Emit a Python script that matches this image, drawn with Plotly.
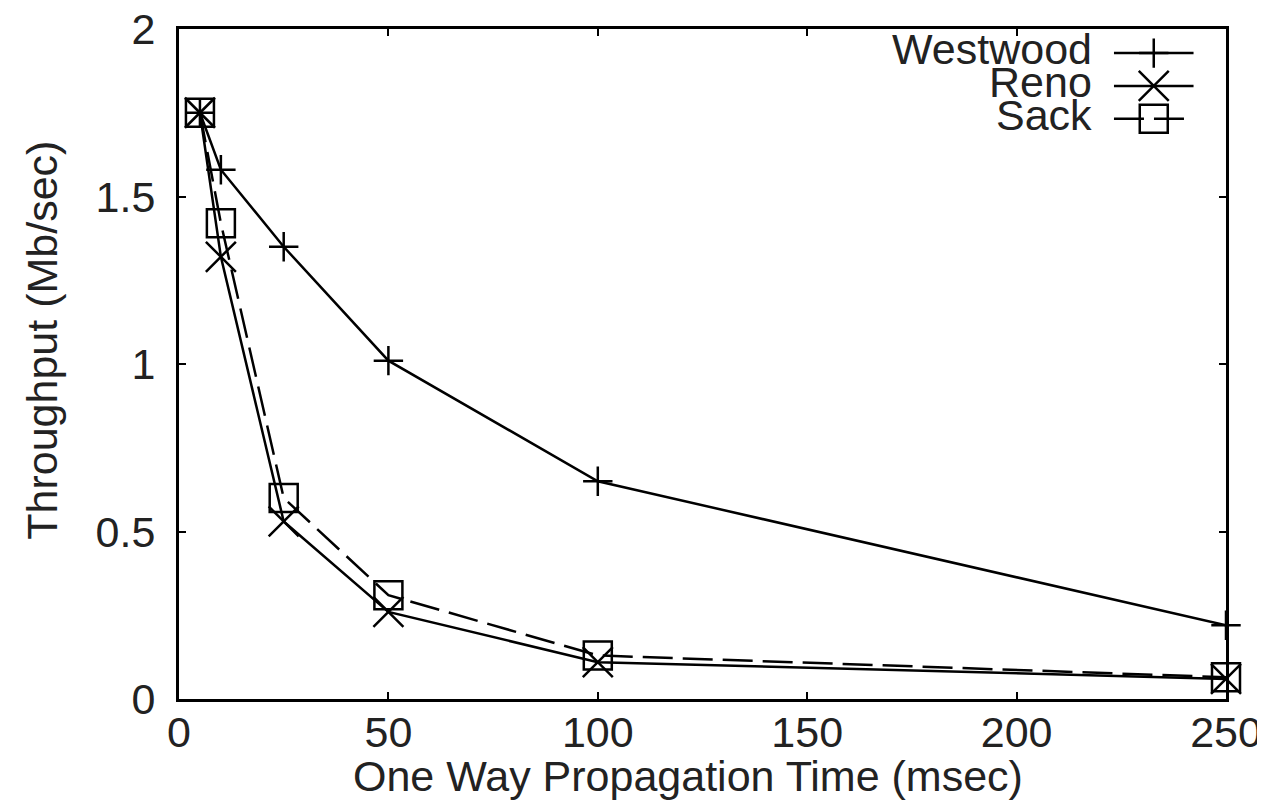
import plotly.graph_objects as go

delay_ms = [5, 10, 25, 50, 100, 250]
westwood = [1.75, 1.58, 1.35, 1.01, 0.65, 0.22]
reno = [1.75, 1.32, 0.53, 0.26, 0.11, 0.06]
sack = [1.75, 1.42, 0.60, 0.31, 0.13, 0.065]

series_names = ["Westwood", "Reno", "Sack"]
x_ticks = [0, 50, 100, 150, 200, 250]
y_ticks = [0, 0.5, 1, 1.5, 2]
y_tick_text = ["0", "0.5", "1", "1.5", "2"]

FONT = "Liberation Sans, Arial, sans-serif"
FS = 43
BLACK = "#000000"
TEXT = "#222222"
DASH = "30px,10px"

styles = {
    "Westwood": dict(symbol="cross-thin", size=21, dash="solid"),
    "Reno": dict(symbol="x-thin", size=30, dash="solid"),
    "Sack": dict(symbol="square-open", size=28, dash=DASH),
}
values = {"Westwood": westwood, "Reno": reno, "Sack": sack}

fig = go.Figure()
for name in series_names:
    st = styles[name]
    fig.add_trace(go.Scatter(
        x=delay_ms, y=values[name], mode="lines+markers", name=name,
        line=dict(color=BLACK, width=2.5, dash=st["dash"]),
        marker=dict(symbol=st["symbol"], size=st["size"], color=BLACK,
                    line=dict(color=BLACK, width=2.5)),
        cliponaxis=False, showlegend=False,
    ))

# key (gnuplot style: text right-aligned, sample to the right)
key_rows = [0.964, 0.915, 0.866]
key_x0, key_x1, key_xm, key_text_x = 0.893, 0.969, 0.931, 0.874
annotations = []
for name, ky in zip(series_names, key_rows):
    st = styles[name]
    fig.add_trace(go.Scatter(
        x=[key_x0, key_x1], y=[ky, ky], mode="lines", xaxis="x2", yaxis="y2",
        line=dict(color=BLACK, width=2.5, dash=st["dash"]), showlegend=False,
        hoverinfo="skip", cliponaxis=False,
    ))
    fig.add_trace(go.Scatter(
        x=[key_xm], y=[ky], mode="markers", xaxis="x2", yaxis="y2",
        marker=dict(symbol=st["symbol"], size=st["size"], color=BLACK,
                    line=dict(color=BLACK, width=2.5)),
        showlegend=False, hoverinfo="skip", cliponaxis=False,
    ))
    annotations.append(dict(
        x=key_text_x, y=ky + 0.006, xref="paper", yref="paper", text=name,
        showarrow=False, xanchor="right", yanchor="middle",
        font=dict(family=FONT, size=FS, color=TEXT),
    ))

annotations.append(dict(
    x=0.486, y=-0.115, xref="paper", yref="paper",
    text="One Way Propagation Time (msec)", showarrow=False,
    xanchor="center", yanchor="middle", font=dict(family=FONT, size=FS, color=TEXT),
))
annotations.append(dict(
    x=-0.131, y=0.536, xref="paper", yref="paper",
    text="Throughput (Mb/sec)", showarrow=False, textangle=-90,
    xanchor="center", yanchor="middle", font=dict(family=FONT, size=FS, color=TEXT),
))

axis_common = dict(
    showline=True, linecolor=BLACK, linewidth=3, mirror="ticks",
    ticks="inside", ticklen=7, tickwidth=2, tickcolor=BLACK,
    showgrid=False, zeroline=False, automargin=False, ticklabeloverflow="allow",
    tickfont=dict(family=FONT, size=FS, color=TEXT),
)

# page body has an 8px default margin; the figure fills the rest of the window
fig.update_layout(
    width=1257, height=794,
    margin=dict(l=171, r=39, t=21, b=103),
    paper_bgcolor="white", plot_bgcolor="white",
    xaxis=dict(range=[0, 250], tickvals=x_ticks, ticklabelstandoff=-7, **axis_common),
    yaxis=dict(range=[0, 2], tickvals=y_ticks, ticktext=y_tick_text,
               ticklabelstandoff=12, **axis_common),
    xaxis2=dict(overlaying="x", range=[0, 1], visible=False),
    yaxis2=dict(overlaying="y", range=[0, 1], visible=False),
    annotations=annotations,
    showlegend=False,
)

fig.write_html("out.html")
